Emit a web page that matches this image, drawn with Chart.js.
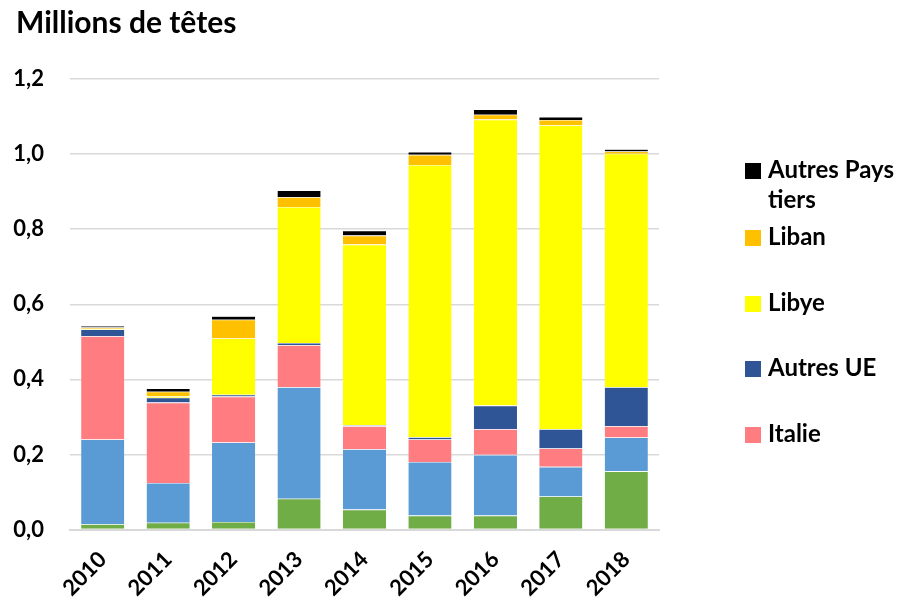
<!DOCTYPE html>
<html>
<head>
<meta charset="utf-8">
<script src="https://cdn.jsdelivr.net/npm/chart.js@4.4.0/dist/chart.umd.min.js"></script>
<style>
  body { margin: 0; background: #fff; }
  #wrap { position: relative; width: 904px; height: 601px; overflow: hidden; }
  #title { position: absolute; left: 16px; top: 3px; font: bold 30px Lato, sans-serif; color: #000; }
  #legend { position: absolute; left: 745px; top: 0; font: bold 24px Lato, sans-serif; color: #000; white-space: nowrap; }
  #legend div { position: absolute; left: 0; line-height: 30px; }
  #legend span.box { display: inline-block; width: 16px; height: 16px; margin-right: 7px; vertical-align: -1px; }
</style>
</head>
<body>
<div id="wrap">
  <canvas id="chart" width="904" height="601"></canvas>
  <div id="title">Millions de têtes</div>
  <div id="legend"></div>
</div>
<script>
// Data
const years = ['2010', '2011', '2012', '2013', '2014', '2015', '2016', '2017', '2018'];
const vert      = [0.014, 0.018, 0.020, 0.082, 0.053, 0.037, 0.037, 0.088, 0.155];
const bleuClair = [0.226, 0.106, 0.212, 0.297, 0.161, 0.143, 0.162, 0.079, 0.090];
const italie    = [0.275, 0.214, 0.122, 0.112, 0.061, 0.060, 0.068, 0.049, 0.030];
const autresUE  = [0.018, 0.013, 0.005, 0.006, 0.003, 0.006, 0.063, 0.051, 0.104];
const libye     = [0.002, 0.004, 0.150, 0.362, 0.481, 0.725, 0.762, 0.810, 0.622];
const liban     = [0.003, 0.012, 0.050, 0.026, 0.024, 0.027, 0.013, 0.014, 0.006];
const autresPT  = [0.004, 0.009, 0.009, 0.018, 0.013, 0.008, 0.014, 0.008, 0.006];
const yTicks = [0, 0.2, 0.4, 0.6, 0.8, 1.0, 1.2];

const series = [
  { label: 'Espagne', data: vert, color: '#70AD47' },
  { label: 'France', data: bleuClair, color: '#5B9BD5' },
  { label: 'Italie', data: italie, color: '#FF7C80' },
  { label: 'Autres UE', data: autresUE, color: '#2F5597' },
  { label: 'Libye', data: libye, color: '#FFFF00' },
  { label: 'Liban', data: liban, color: '#FFC000' },
  { label: 'Autres Pays tiers', data: autresPT, color: '#000000' }
];

window.addEventListener('load', function () {
  const ctx = document.getElementById('chart').getContext('2d');

  new Chart(ctx, {
    type: 'bar',
    data: {
      labels: years,
      datasets: series.map(s => ({
        label: s.label,
        data: s.data,
        backgroundColor: s.color,
        borderColor: '#ffffff',
        borderWidth: { top: 0.6, bottom: 0, left: 0, right: 0 },
        categoryPercentage: 0.66,
        barPercentage: 1.0
      }))
    },
    options: {
      responsive: false,
      animation: false,
      layout: { padding: { left: 0, right: 245, top: 79, bottom: 0 } },
      plugins: {
        legend: { display: false },
        tooltip: { enabled: false }
      },
      scales: {
        x: {
          stacked: true,
          grid: { display: false },
          border: { color: '#d9d9d9', width: 2 },
          ticks: {
            color: '#000',
            font: { family: 'Lato', weight: 'bold', size: 22 },
            maxRotation: 45, minRotation: 45,
            padding: 9
          },
          afterFit: function (scale) { scale.height = 71.5; }
        },
        y: {
          stacked: true,
          min: 0, max: 1.2,
          afterBuildTicks: function (scale) { scale.ticks = yTicks.map(v => ({ value: v })); },
          grid: { color: '#d9d9d9', lineWidth: 1.5, drawTicks: false },
          border: { display: false },
          ticks: {
            color: '#000',
            font: { family: 'Lato', weight: 'bold', size: 22 },
            padding: 26,
            callback: v => v.toFixed(1).replace('.', ',')
          },
          afterFit: function (scale) { scale.width = 70; }
        }
      }
    }
  });

  // legend (only the five series shown in the original)
  const legendItems = [
    { s: series[6], top: 154 },
    { s: series[5], top: 221 },
    { s: series[4], top: 287 },
    { s: series[3], top: 352 },
    { s: series[2], top: 418 }
  ];
  const legend = document.getElementById('legend');
  legendItems.forEach(item => {
    const d = document.createElement('div');
    d.style.top = item.top + 'px';
    let text = item.s.label;
    if (text === 'Autres Pays tiers') text = 'Autres Pays<br><span style="margin-left:23px">tiers</span>';
    d.innerHTML = `<span class="box" style="background:${item.s.color}"></span>${text}`;
    legend.appendChild(d);
  });
});
</script>
</body>
</html>
